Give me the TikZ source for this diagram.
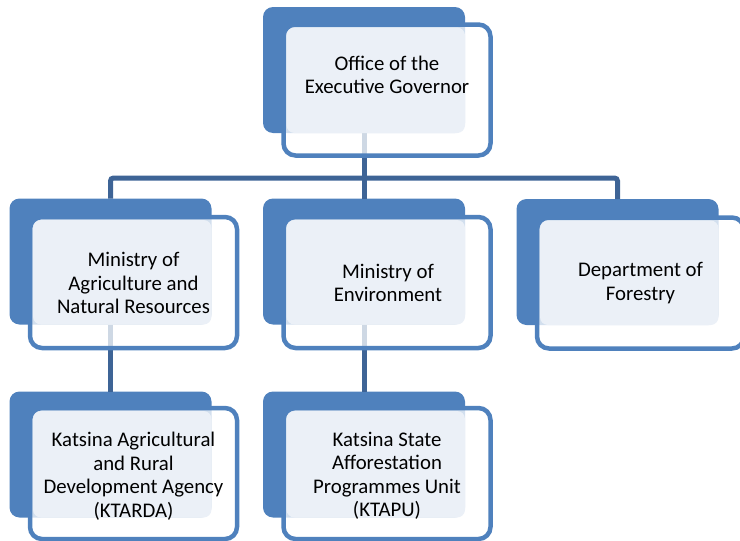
\documentclass[tikz,border=0pt]{standalone}
\usepackage{fontspec}
\setmainfont{Carlito}
\usepackage{tikz}
\usetikzlibrary{calc}

\definecolor{boxblue}{RGB}{79,129,189}
\definecolor{linkblue}{RGB}{62,100,150}
\definecolor{liteblue}{RGB}{235,240,247}

\tikzset{
	backbox/.style={rectangle,rounded corners=10pt,fill=boxblue,minimum width=202pt,minimum height=126pt,inner sep=0pt,outer sep=0pt},
	frontbox/.style={rectangle,rounded corners=12pt,draw=boxblue,line width=4.5pt,fill=white,fill opacity=0.75,draw opacity=1,minimum width=207pt,minimum height=131pt,inner sep=0pt,outer sep=0pt},
	litebox/.style={fill=liteblue,rounded corners=8pt},
	boxtext/.style={align=center,font=\fontsize{20.8}{23.5}\selectfont},
	link/.style={draw=linkblue,line width=5pt}
}

\begin{document}
\begin{tikzpicture}[x=1pt,y=-1pt]
		\useasboundingbox (0,0) rectangle (740,541);
%		back boxes
		\node[backbox] (gov_back) at (364,70) {};
		\node[backbox] (agr_back) at (110.5,261.5) {};
		\node[backbox] (env_back) at (364,261.5) {};
		\node[backbox] (forest_back) at (617.5,262) {};
		\node[backbox] (ktarda_back) at (110.5,454.5) {};
		\node[backbox] (ktapu_back) at (364,454.5) {};

%		connectors
		\coordinate (bar) at (364,178);
		\draw[link,rounded corners=3pt] (agr_back.north) |- (bar) -| (forest_back.north);
		\draw[link] (gov_back.south) -- (env_back.north);
		\draw[link] (agr_back.south) -- (ktarda_back.north);
		\draw[link] (env_back.south) -- (ktapu_back.north);

%		front boxes
		\node[frontbox] (gov_front) at (387,90) {};
		\node[frontbox] (agr_front) at (133.5,282.5) {};
		\node[frontbox] (env_front) at (387,282.5) {};
		\node[frontbox] (forest_front) at (640.5,283) {};
		\node[frontbox] (ktarda_front) at (133.5,473.5) {};
		\node[frontbox] (ktapu_front) at (387,473.5) {};

		\fill[litebox] ($(gov_front.north west)+(3,3)$) rectangle (gov_back.south east);
		\fill[litebox] ($(agr_front.north west)+(3,3)$) rectangle (agr_back.south east);
		\fill[litebox] ($(env_front.north west)+(3,3)$) rectangle (env_back.south east);
		\fill[litebox] ($(forest_front.north west)+(3,3)$) rectangle (forest_back.south east);
		\fill[litebox] ($(ktarda_front.north west)+(3,3)$) rectangle (ktarda_back.south east);
		\fill[litebox] ($(ktapu_front.north west)+(3,3)$) rectangle (ktapu_back.south east);

%		texts
		\node[boxtext] (gov_text) at (387,75) {Office of the\\Executive Governor};
		\node[boxtext] (agr_text) at (133.5,283) {Ministry of\\Agriculture and\\Natural Resources};
		\node[boxtext] (env_text) at (388,283) {Ministry of\\Environment};
		\node[boxtext] (forest_text) at (640.5,283) {Department of\\Forestry};
		\node[boxtext] (ktarda_text) at (133.5,476) {Katsina Agricultural\\and Rural\\Development Agency\\(KTARDA)};
		\node[boxtext] (ktapu_text) at (387,476) {Katsina State\\Afforestation\\Programmes Unit\\(KTAPU)};
	\end{tikzpicture}
\end{document}
